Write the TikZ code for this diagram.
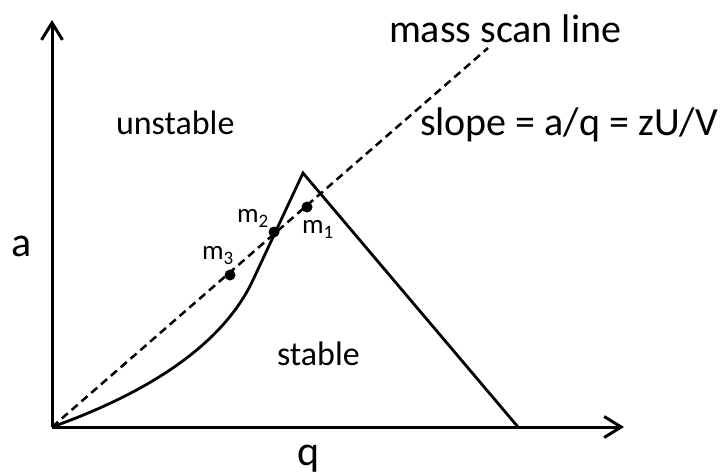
\documentclass[tikz,border=0pt]{standalone}
\usepackage{fontspec}
\setmainfont{Carlito}
\usetikzlibrary{arrows.meta}
\tikzset{
  axisline/.style={line width=3pt,-{Straight Barb[length=17pt,width=21pt]}},
  boundary/.style={line width=2.8pt,line join=miter},
  scanline/.style={line width=2.5pt,dash pattern=on 8pt off 5pt},
  massdot/.style={circle,fill=black,inner sep=0pt,minimum size=11pt},
  lbl/.style={anchor=base west,inner sep=0pt,outer sep=0pt},
}
\newcommand{\fs}[1]{\fontsize{#1}{#1}\selectfont}
\newcommand{\msub}[1]{\raisebox{-0.22em}{\fs{19}#1}}
\begin{document}
\begin{tikzpicture}[x=1pt,y=-1pt]
\useasboundingbox (0,0) rectangle (727,474);
% coordinates
\coordinate (O) at (52,427);
\coordinate (Ytip) at (52,20);
\coordinate (Xtip) at (624,427);
\coordinate (apex) at (303,173);
\coordinate (right) at (518,427);
\coordinate (bend) at (253,280);
\coordinate (scanend) at (488,48);
% axes
\draw[axisline] (O) -- (Ytip);
\draw[axisline] (O) -- (Xtip);
% stability region boundary
\draw[boundary] (O) .. controls (150,392) and (223,344) .. (bend) -- (apex) -- (right);
% mass scan line
\draw[scanline] (O) -- (scanend);
% mass points
\node[massdot] (m1) at (307,207) {};
\node[massdot] (m2) at (274,232) {};
\node[massdot] (m3) at (230,275) {};
% labels
\node[lbl,font=\fs{27}] (m1l) at (302,233) {m\msub{1}};
\node[lbl,font=\fs{27}] (m2l) at (237,222) {m\msub{2}};
\node[lbl,font=\fs{27}] (m3l) at (202,259) {m\msub{3}};
\node[lbl,font=\fs{40}] (msl) at (389,42) {mass scan line};
\node[lbl,font=\fs{40}] (slope) at (420,135) {slope = a/q = zU/V};
\node[lbl,font=\fs{34}] (unst) at (116,134) {unstable};
\node[lbl,font=\fs{34}] (st) at (277,365) {stable};
\node[lbl,font=\fs{42}] (alab) at (12,256) {a};
\node[lbl,font=\fs{42}] (qlab) at (297,465) {q};
\end{tikzpicture}
\end{document}
